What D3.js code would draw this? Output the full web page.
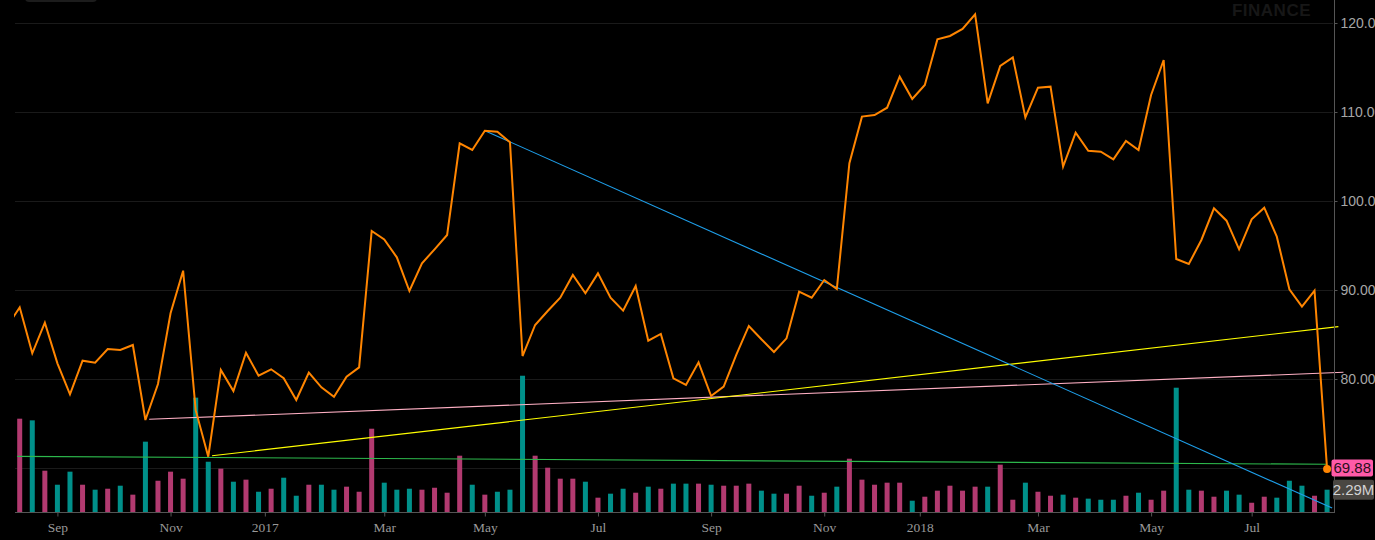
<!DOCTYPE html>
<html>
<head>
<meta charset="utf-8">
<script src="https://cdnjs.cloudflare.com/ajax/libs/d3/7.8.5/d3.min.js"></script>
<style>
  html, body { margin: 0; padding: 0; background: #000; overflow: hidden; }
  svg { display: block; }
</style>
</head>
<body>
<div id="chart"></div>
<script>
// weekly closes, index -1 .. 104 (first one sits just off the left edge)
const closes = [
  85.9, 88.05, 82.89, 86.33, 81.76, 78.28, 82.06, 81.83, 83.37, 83.26,
  83.82, 75.39, 79.44, 87.38, 92.17, 76.5, 71.27, 81.01, 78.65, 82.96,
  80.37, 81.09, 80.08, 77.64, 80.71, 79.06, 78.01, 80.26, 81.31, 96.63,
  95.69, 93.67, 89.89, 93.0, 94.57, 96.18, 106.48, 105.73, 107.9, 107.79,
  106.6, 82.58, 86.07, 87.64, 89.13, 91.69, 89.63, 91.87, 89.13, 87.68,
  90.45, 84.31, 85.06, 80.08, 79.33, 81.87, 78.09, 79.14, 82.7, 85.96,
  84.46, 83.03, 84.57, 89.81, 89.13, 91.12, 90.11, 104.24, 109.48, 109.66,
  110.48, 113.97, 111.46, 113.03, 118.16, 118.54, 119.33, 120.97, 110.97, 115.17,
  116.14, 109.4, 112.73, 112.85, 103.86, 107.68, 105.65, 105.54, 104.68, 106.74,
  105.73, 111.91, 115.84, 93.48, 92.92, 95.62, 99.18, 97.79, 94.57, 97.94,
  99.25, 95.99, 90.08, 88.13, 89.93, 69.88
];

// weekly volume in millions, index 0 .. 104
const volumes = [
  9.58, 9.41, 4.24, 2.80, 4.14, 2.80, 2.29, 2.39, 2.70, 1.78,
  7.22, 3.21, 4.14, 3.42, 11.74, 5.16, 4.45, 3.11, 3.32, 2.08,
  2.39, 3.52, 1.67, 2.80, 2.80, 2.29, 2.60, 2.08, 8.55, 3.01,
  2.29, 2.39, 2.29, 2.49, 1.98, 5.78, 2.80, 1.78, 2.08, 2.29,
  13.99, 5.78, 4.55, 3.42, 3.42, 3.11, 1.47, 1.88, 2.39, 1.98,
  2.60, 2.39, 2.91, 2.91, 2.91, 2.80, 2.70, 2.70, 2.91, 2.19,
  1.88, 1.88, 2.70, 1.67, 1.98, 2.60, 5.47, 3.32, 2.80, 3.01,
  3.01, 1.16, 1.57, 2.19, 2.70, 2.19, 2.60, 2.60, 4.86, 1.26,
  3.01, 2.08, 1.67, 1.78, 1.47, 1.37, 1.26, 1.26, 1.67, 1.98,
  1.26, 2.19, 12.76, 2.29, 2.19, 1.57, 2.19, 1.78, 0.95, 1.57,
  1.47, 3.21, 2.70, 1.67, 2.29
];

// U = up week, D = down week
const direction = (
  "DUDUUDUDUD" + "UDDDUUDUDU" + "DUUDUUDDDU" + "UUDDDDUDUU" + "UDDDDUDUUD" +
  "UDUUDUDDDU" + "UDDUDUDDDD" + "DUDDDDDUDD" + "UDDUDUUUDU" + "DDUUDDUUDD" +
  "UUUDU"
).split("");

// month ticks, as week index
const monthTicks = [3, 12, 19.5, 29, 37, 46, 55, 64, 71.6, 81, 90, 98];
const monthLabels = ["Sep", "Nov", "2017", "Mar", "May", "Jul", "Sep", "Nov", "2018", "Mar", "May", "Jul"];

const priceTicks = [70, 80, 90, 100, 110, 120];

// drawn trend lines: [week index, price]
const trendBlue = [[37, 107.9], [104.4, 65.5]];
const trendYellow = [[15.3, 71.38], [104.9, 85.88]];
const trendPink = [[10.3, 75.47], [105.3, 80.75]];
const trendGreen = [[-0.2, 71.31], [104, 70.42]];

const lastPrice = 69.88;
const lastVolume = "2.29M";

const width = 1375;
const height = 540;
const left = 15;
const right = 1335;
const bottom = 512;

const svg = d3.select("#chart")
  .append("svg")
  .attr("width", width)
  .attr("height", height)
  .style("background", "#000");

svg.append("defs").append("clipPath")
  .attr("id", "plot")
  .append("rect")
  .attr("x", 14)
  .attr("y", 0)
  .attr("width", right - 2 - 14)
  .attr("height", bottom);

// scales
const xScale = d3.scaleLinear()
  .domain([-0.374, 104.47])
  .range([left, right - 2]);

const yScale = d3.scaleLinear()
  .domain([70, 120])
  .range([468, 23]);

const vScale = d3.scaleLinear()
  .domain([0, 50])
  .range([bottom, bottom - 487]);

// watermark and the faint box at top left
svg.append("text")
  .attr("x", 1311)
  .attr("y", 16)
  .attr("text-anchor", "end")
  .attr("font-family", "Liberation Sans, Arial, sans-serif")
  .attr("font-weight", "bold")
  .attr("font-size", 17)
  .attr("letter-spacing", 0.5)
  .attr("fill", "#171717")
  .text("FINANCE");

svg.append("rect")
  .attr("x", 25)
  .attr("y", -10)
  .attr("width", 72)
  .attr("height", 12)
  .attr("rx", 4)
  .attr("fill", "#1c1c1c");

// grid
svg.append("g")
  .selectAll("line")
  .data(priceTicks)
  .enter()
  .append("line")
  .attr("x1", left)
  .attr("x2", right - 2)
  .attr("y1", (d) => Math.round(yScale(d)) + 0.5)
  .attr("y2", (d) => Math.round(yScale(d)) + 0.5)
  .attr("stroke", "#1a1a1a")
  .attr("stroke-width", 1);

// volume bars
svg.append("g")
  .selectAll("rect")
  .data(volumes)
  .enter()
  .append("rect")
  .attr("x", (d, i) => xScale(i) - 2.5)
  .attr("y", (d) => vScale(d))
  .attr("width", 5)
  .attr("height", (d) => bottom - vScale(d))
  .attr("fill", (d, i) => direction[i] === "U" ? "#00908a" : "#b23a70");

// trend lines
const trend = [
  { pts: trendGreen, color: "#2db84c" },
  { pts: trendPink, color: "#ffb0c4" },
  { pts: trendYellow, color: "#ffff00" },
  { pts: trendBlue, color: "#1e9fea" }
];

svg.append("g")
  .selectAll("line")
  .data(trend)
  .enter()
  .append("line")
  .attr("x1", (d) => xScale(d.pts[0][0]))
  .attr("y1", (d) => yScale(d.pts[0][1]))
  .attr("x2", (d) => xScale(d.pts[1][0]))
  .attr("y2", (d) => yScale(d.pts[1][1]))
  .attr("stroke", (d) => d.color)
  .attr("stroke-width", 1.1);

// price line
const line = d3.line()
  .x((d, i) => xScale(i - 1))
  .y((d) => yScale(d));

svg.append("path")
  .datum(closes)
  .attr("clip-path", "url(#plot)")
  .attr("d", line)
  .attr("fill", "none")
  .attr("stroke", "#ff8500")
  .attr("stroke-width", 2)
  .attr("stroke-linejoin", "miter");

svg.append("circle")
  .attr("cx", xScale(closes.length - 2))
  .attr("cy", yScale(lastPrice))
  .attr("r", 4)
  .attr("fill", "#ff8500");

// axes
const xAxis = d3.axisBottom(xScale)
  .tickValues(monthTicks)
  .tickFormat((d, i) => monthLabels[i])
  .tickSize(4)
  .tickPadding(6)
  .tickSizeOuter(0);

const gx = svg.append("g")
  .attr("class", "x-axis")
  .attr("transform", `translate(0, ${bottom + 0.5})`)
  .call(xAxis);

gx.select(".domain").attr("stroke", "#555").attr("d", `M${left},0H${right}`);
gx.selectAll(".tick line").attr("stroke", "#555");
gx.selectAll("text")
  .attr("fill", "#999")
  .attr("font-family", "Liberation Serif, Times New Roman, serif")
  .attr("font-size", 13.5);

const yAxis = d3.axisRight(yScale)
  .tickValues(priceTicks.filter((d) => d > 70))
  .tickFormat(d3.format(".2f"))
  .tickSize(3)
  .tickPadding(3)
  .tickSizeOuter(0);

const gy = svg.append("g")
  .attr("class", "y-axis")
  .attr("transform", `translate(${right - 0.5}, 0)`)
  .call(yAxis);

gy.select(".domain").attr("stroke", "#555").attr("d", `M0,0V${bottom}`);
gy.selectAll(".tick line").attr("stroke", "#555");
gy.selectAll("text")
  .attr("fill", "#a6a6a6")
  .attr("font-family", "Liberation Sans, Arial, sans-serif")
  .attr("font-size", 14);

// last price / last volume badges
const py = yScale(lastPrice);
svg.append("rect")
  .attr("x", 1331.5)
  .attr("y", py - 9.5)
  .attr("width", 41.5)
  .attr("height", 17)
  .attr("rx", 2)
  .attr("fill", "#ff5aa8");

svg.append("text")
  .attr("x", 1352.3)
  .attr("y", py - 1)
  .attr("dy", "0.36em")
  .attr("text-anchor", "middle")
  .attr("font-family", "Liberation Sans, Arial, sans-serif")
  .attr("font-size", 15)
  .attr("fill", "#2a0f1c")
  .text(lastPrice.toFixed(2));

const vy = vScale(volumes[volumes.length - 1]);
svg.append("rect")
  .attr("x", 1333)
  .attr("y", vy - 10)
  .attr("width", 41)
  .attr("height", 20)
  .attr("rx", 2)
  .attr("fill", "#4a4742");

svg.append("text")
  .attr("x", 1353.5)
  .attr("y", vy)
  .attr("dy", "0.36em")
  .attr("text-anchor", "middle")
  .attr("font-family", "Liberation Sans, Arial, sans-serif")
  .attr("font-size", 15)
  .attr("fill", "#d2d2d2")
  .text(lastVolume);
</script>
</body>
</html>
